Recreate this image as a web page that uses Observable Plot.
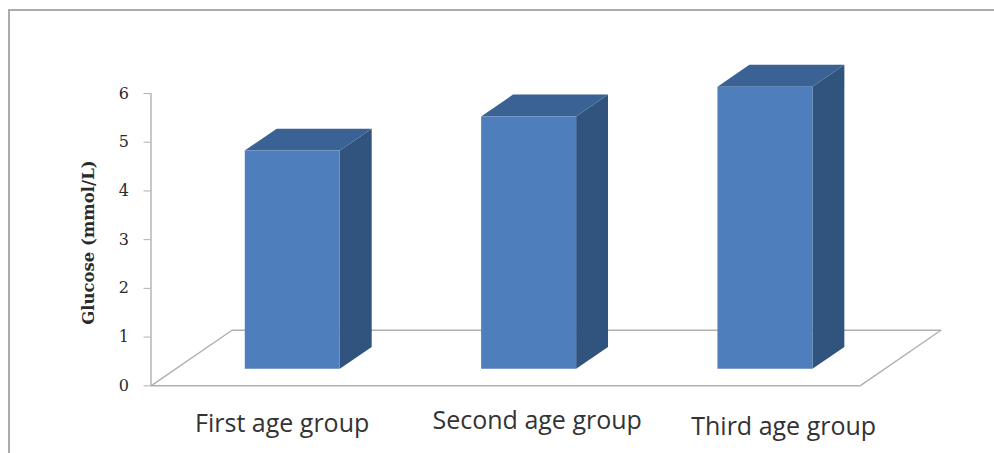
<!DOCTYPE html>
<html>
<head>
<meta charset="utf-8">
<script src="https://cdn.jsdelivr.net/npm/d3@7"></script>
<script src="https://cdn.jsdelivr.net/npm/@observablehq/plot@0.6"></script>
<style>
  html, body { margin: 0; padding: 0; background: #fff; overflow: hidden; }
  #chart { position: relative; width: 994px; height: 453px; }
  #chart svg { display: block; background: transparent; }
  #frame { position: absolute; left: 8px; top: 9px; right: 0; bottom: 0;
           border-left: 2px solid #ababab; border-top: 2px solid #ababab; }
</style>
</head>
<body>
<div id="chart"><div id="frame"></div></div>
<script>
// Mean glucose per age group
const categories = ["First age group", "Second age group", "Third age group"];
const glucose = [4.48, 5.18, 5.79];
const yTicks = [0, 1, 2, 3, 4, 5, 6];
const yTitle = "Glucose (mmol/L)";

// Oblique projection: a point at depth d (0 front, 1 back) shifts right and up
const shiftX = 0.3426, shiftY = 1.14;
const project = (cat, val, d) => ({x: cat + d * shiftX, y: val + d * shiftY});

// Column footprint, in category widths and floor depth
const barWidth = 0.402, barShift = -0.007, depthFront = 0.306, depthBack = 0.70;

function polygon(face, corners) {
  return corners.map(([c, v, d]) => ({face, ...project(c, v, d)}));
}

const floor = polygon("floor", [[0, 0, 0], [3, 0, 0], [3, 0, 1], [0, 0, 1], [0, 0, 0]]);

const sides = [], tops = [], fronts = [];
glucose.forEach((value, i) => {
  const c0 = i + 0.5 + barShift - barWidth / 2, c1 = i + 0.5 + barShift + barWidth / 2;
  sides.push(...polygon("side" + i, [[c1, 0, depthFront], [c1, 0, depthBack], [c1, value, depthBack], [c1, value, depthFront]]));
  tops.push(...polygon("top" + i, [[c0, value, depthFront], [c1, value, depthFront], [c1, value, depthBack], [c0, value, depthBack]]));
  fronts.push(...polygon("front" + i, [[c0, 0, depthFront], [c1, 0, depthFront], [c1, value, depthFront], [c0, value, depthFront]]));
});

// Category captions sit unevenly under the floor
const captionX = [0.555, 1.634, 2.677];
const captionY = [-0.78, -0.72, -0.84];
const captions = categories.map((name, i) => ({name, x: captionX[i], y: captionY[i]}));

const gray = "#b0b0b0";
const chart = Plot.plot({
  width: 994,
  height: 453,
  marginLeft: 150.5,
  marginRight: 134.5,
  marginTop: 93,
  marginBottom: 67.7,
  x: {domain: [0, 3], axis: null},
  y: {domain: [0, 6], axis: null},
  marks: [
    Plot.line(floor, {x: "x", y: "y", z: "face", stroke: gray, strokeWidth: 1.4}),
    Plot.line(sides, {x: "x", y: "y", z: "face", fill: "#31547f", stroke: "none"}),
    Plot.line(tops, {x: "x", y: "y", z: "face", fill: "#3a6294", stroke: "none"}),
    Plot.line(fronts, {x: "x", y: "y", z: "face", fill: "#4e7fbc", stroke: "none"}),
    Plot.ruleX([0], {stroke: gray, strokeWidth: 1.4}),
    Plot.axisY({
      ticks: yTicks,
      tickFormat: d3.format("d"),
      tickSize: 7,
      tickPadding: 15,
      stroke: gray,
      fill: "#2a2a2a",
      label: null,
      fontFamily: "DejaVu Serif",
      fontSize: 16,
      textStroke: "none"
    }),
    Plot.text([yTitle], {
      frameAnchor: "left",
      textAnchor: "middle",
      rotate: -90,
      dx: -62,
      dy: 3,
      fontFamily: "DejaVu Serif",
      fontWeight: "bold",
      fontSize: 16.5,
      fill: "#2a2a2a"
    }),
    Plot.text(captions, {
      x: "x",
      y: "y",
      text: "name",
      fontFamily: "Open Sans",
      fontSize: 25,
      fill: "#333"
    })
  ]
});
document.getElementById("chart").prepend(chart);
</script>
</body>
</html>
